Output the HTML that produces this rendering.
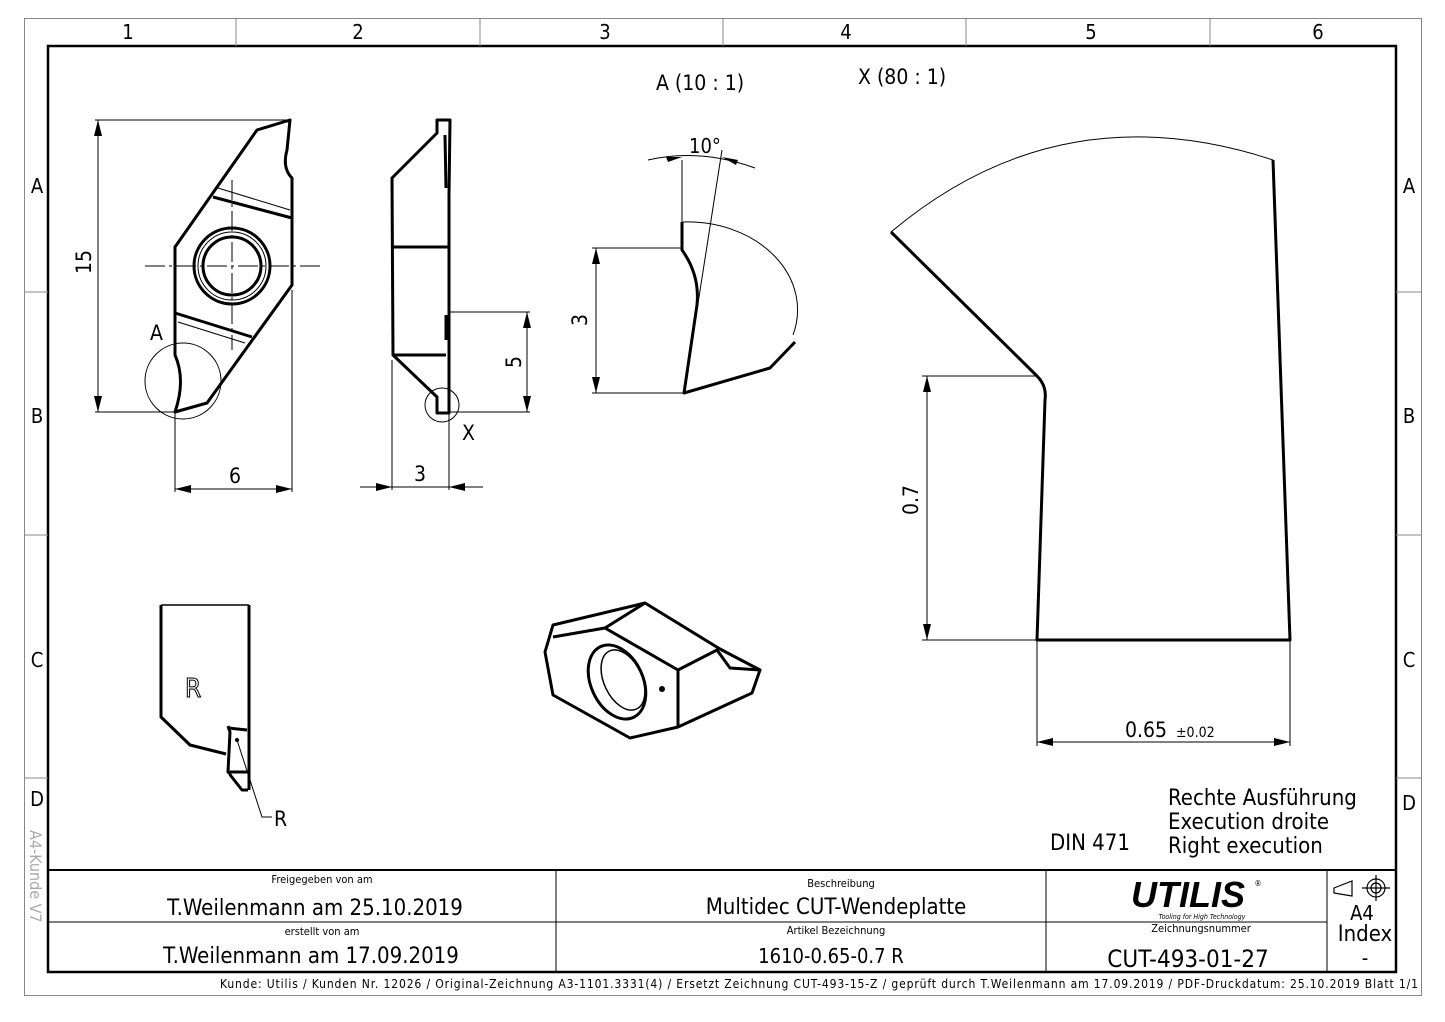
<!DOCTYPE html>
<html><head><meta charset="utf-8"><style>
html,body{margin:0;padding:0;background:#fff}
svg{display:block}
text{font-family:"Liberation Sans Narrow","DejaVu Sans Condensed","Liberation Sans",sans-serif;fill:#000}
</style></head><body>
<svg width="1445" height="1022" viewBox="0 0 1445 1022" xmlns="http://www.w3.org/2000/svg">
<rect x="0" y="0" width="1445" height="1022" fill="#fff"/>
<rect x="24.5" y="18.5" width="1397" height="977" fill="none" stroke="#888" stroke-width="1"/>
<rect x="48" y="46" width="1348" height="926" fill="none" stroke="#000" stroke-width="2.5"/>
<g stroke="#888" stroke-width="1">
<line x1="236" y1="18" x2="236" y2="46"/><line x1="480" y1="18" x2="480" y2="46"/>
<line x1="723" y1="18" x2="723" y2="46"/><line x1="966" y1="18" x2="966" y2="46"/>
<line x1="1210" y1="18" x2="1210" y2="46"/>
<line x1="24" y1="292" x2="48" y2="292"/><line x1="24" y1="535" x2="48" y2="535"/><line x1="24" y1="778" x2="48" y2="778"/>
<line x1="1396" y1="292" x2="1421" y2="292"/><line x1="1396" y1="535" x2="1421" y2="535"/><line x1="1396" y1="778" x2="1421" y2="778"/>
</g>
<g font-size="20" text-anchor="middle">
<text x="128" y="39">1</text><text x="358" y="39">2</text><text x="605" y="39">3</text>
<text x="846" y="39">4</text><text x="1091" y="39">5</text><text x="1318" y="39">6</text>
<text x="37" y="193">A</text><text x="37" y="423">B</text><text x="37" y="667">C</text><text x="37" y="806">D</text>
<text x="1409" y="193">A</text><text x="1409" y="423">B</text><text x="1409" y="667">C</text><text x="1409" y="810">D</text>
</g>
<text x="30" y="830" font-size="16" style="fill:#aaa" transform="rotate(90 30 830)">A4-Kunde V7</text>

<g stroke="#000" stroke-width="1">
<line x1="48" y1="870" x2="1396" y2="870" stroke-width="2"/>
<line x1="48" y1="922" x2="1327" y2="922"/>
<line x1="556" y1="870" x2="556" y2="972"/>
<line x1="1046" y1="870" x2="1046" y2="972"/>
<line x1="1327" y1="870" x2="1327" y2="972"/>
</g>
<g text-anchor="middle">
<text x="322" y="883" font-size="11">Freigegeben von am</text>
<text x="315" y="915" font-size="22">T.Weilenmann am 25.10.2019</text>
<text x="322" y="935" font-size="11">erstellt von am</text>
<text x="311" y="963" font-size="22">T.Weilenmann am 17.09.2019</text>
<text x="841" y="887" font-size="11">Beschreibung</text>
<text x="836" y="914" font-size="22">Multidec CUT-Wendeplatte</text>
<text x="836" y="934" font-size="11">Artikel Bezeichnung</text>
<text x="831" y="963" font-size="20">1610-0.65-0.7 R</text>
<text x="1188" y="907" font-size="36" font-weight="bold" font-style="italic" style="font-family:'Liberation Sans',sans-serif">UTILIS</text>
<text x="1258" y="886" font-size="8">®</text>
<text x="1202" y="919" font-size="7" font-style="italic">Tooling for High Technology</text>
<text x="1201" y="932" font-size="11">Zeichnungsnummer</text>
<text x="1188" y="967" font-size="24">CUT-493-01-27</text>
<text x="1362" y="920" font-size="20">A4</text>
<text x="1365" y="941" font-size="22">Index</text>
<text x="1365" y="965" font-size="20">-</text>
</g>
<g fill="none" stroke="#000" stroke-width="1.2">
<path d="M1334 888 L1352 881 L1352 896 L1334 893 Z"/>
<circle cx="1376" cy="888" r="9"/><circle cx="1376" cy="888" r="5"/>
<line x1="1362" y1="888" x2="1390" y2="888"/><line x1="1376" y1="875" x2="1376" y2="901"/>
</g>
<text x="220" y="988" font-size="12" textLength="1198" lengthAdjust="spacing">Kunde: Utilis / Kunden Nr. 12026 /  Original-Zeichnung A3-1101.3331(4)     /     Ersetzt Zeichnung CUT-493-15-Z / geprüft durch T.Weilenmann am 17.09.2019 / PDF-Druckdatum: 25.10.2019  Blatt 1/1</text>

<text x="656" y="90" font-size="21">A (10 : 1)</text>
<text x="858" y="84" font-size="21">X (80 : 1)</text>
<text x="1050" y="850" font-size="22">DIN 471</text>
<text x="1168" y="805" font-size="22">Rechte Ausführung</text>
<text x="1168" y="829" font-size="22">Execution droite</text>
<text x="1168" y="853" font-size="22">Right execution</text>

<g fill="none" stroke="#000" stroke-width="3" stroke-linejoin="round">
<path d="M290 120 L257 130 L175 247 L175 355 Q186 380 175 412 L207 403 L292 285 L292 178 Q282 168 287 150 Z"/>
<line x1="213" y1="197" x2="292" y2="218"/>
<line x1="175" y1="313" x2="252" y2="337"/>
<circle cx="232" cy="266" r="38"/>
<circle cx="232" cy="266" r="29"/>
</g>
<g fill="none" stroke="#000" stroke-width="1">
<circle cx="232" cy="266" r="34"/>
<line x1="218" y1="188" x2="290" y2="210"/>
<line x1="178" y1="322" x2="245" y2="343"/>
<line x1="145" y1="266" x2="320" y2="266" stroke-dasharray="20 4 3 4"/>
<line x1="232" y1="180" x2="232" y2="350" stroke-dasharray="20 4 3 4"/>
<circle cx="183" cy="381" r="38"/>
<line x1="95" y1="120" x2="290" y2="120"/>
<line x1="95" y1="412" x2="175" y2="412"/>
<line x1="98" y1="120" x2="98" y2="412"/>
<line x1="175" y1="412" x2="175" y2="492"/>
<line x1="292" y1="290" x2="292" y2="492"/>
<line x1="175" y1="489" x2="292" y2="489"/>
<line x1="392" y1="360" x2="392" y2="490"/>
<line x1="449" y1="413" x2="449" y2="490"/>
<line x1="360" y1="487" x2="483" y2="487"/>
<line x1="449" y1="312" x2="530" y2="312"/>
<line x1="449" y1="412" x2="530" y2="412"/>
<line x1="527" y1="312" x2="527" y2="412"/>
<circle cx="442" cy="405" r="17"/>
</g>
<g fill="#000">
<path d="M98 120 l-4 16 h8 z"/><path d="M98 412 l-4 -16 h8 z"/>
<path d="M175 489 l16 -4 v8 z"/><path d="M292 489 l-16 -4 v8 z"/>
<path d="M392 487 l-16 -4 v8 z"/><path d="M449 487 l16 -4 v8 z"/>
<path d="M527 312 l-4 16 h8 z"/><path d="M527 412 l-4 -16 h8 z"/>
</g>
<text x="150" y="340" font-size="21">A</text>
<text x="91" y="262" font-size="21" transform="rotate(-90 91 262)" text-anchor="middle">15</text>
<text x="235" y="483" font-size="21" text-anchor="middle">6</text>
<text x="420" y="481" font-size="21" text-anchor="middle">3</text>
<text x="462" y="440" font-size="21">X</text>
<text x="521" y="362" font-size="21" transform="rotate(-90 521 362)" text-anchor="middle">5</text>

<g fill="none" stroke="#000" stroke-width="3" stroke-linejoin="round">
<path d="M437 120 L450 120 L449 195 L449 413 L437 413 L437 397 L393 355 L392 178 L437 133 Z"/>
<line x1="392" y1="247" x2="449" y2="247"/>
<line x1="392" y1="355" x2="446" y2="355"/>
<line x1="445" y1="135" x2="446" y2="188"/>
<line x1="446" y1="315" x2="446" y2="340"/>
</g>

<g fill="none" stroke="#000" stroke-width="3" stroke-linejoin="round">
<path d="M682 222 L682 250 Q700 275 697 305 L684 393 L770 368 L795 342"/>
</g>
<g fill="none" stroke="#000" stroke-width="1">
<path d="M683 222 A110 88 0 0 1 793 335"/>
<line x1="682" y1="160" x2="682" y2="222"/>
<line x1="684" y1="393" x2="722" y2="150"/>
<path d="M648 160 Q700 148 755 168"/>
<line x1="592" y1="248" x2="682" y2="248"/>
<line x1="592" y1="393" x2="684" y2="393"/>
<line x1="596" y1="248" x2="596" y2="393"/>
</g>
<g fill="#000">
<path d="M596 248 l-4 16 h8 z"/><path d="M596 393 l-4 -16 h8 z"/>
<path d="M682 157 l-16 0 l2 5 z"/><path d="M722 157 l16 3 l-2 5 z"/>
</g>
<text x="689" y="153" font-size="20">10°</text>
<text x="587" y="320" font-size="21" transform="rotate(-90 587 320)" text-anchor="middle">3</text>

<g fill="none" stroke="#000" stroke-width="3" stroke-linejoin="round">
<path d="M891 232 L1037 376 Q1047 386 1045 400 L1037 640 L1290 640 L1273 160"/>
</g>
<g fill="none" stroke="#000" stroke-width="1">
<path d="M891 232 Q1060 90 1273 160"/>
<line x1="922" y1="376" x2="1037" y2="376"/>
<line x1="922" y1="640" x2="1037" y2="640"/>
<line x1="927" y1="376" x2="927" y2="640"/>
<line x1="1037" y1="640" x2="1037" y2="746"/>
<line x1="1290" y1="640" x2="1290" y2="746"/>
<line x1="1037" y1="742" x2="1290" y2="742"/>
</g>
<g fill="#000">
<path d="M927 376 l-4 16 h8 z"/><path d="M927 640 l-4 -16 h8 z"/>
<path d="M1037 742 l16 -4 v8 z"/><path d="M1290 742 l-16 -4 v8 z"/>
</g>
<text x="918" y="500" font-size="21" transform="rotate(-90 918 500)" text-anchor="middle">0.7</text>
<text x="1125" y="737" font-size="21">0.65</text>
<text x="1176" y="737" font-size="14">±0.02</text>

<g fill="none" stroke="#000" stroke-width="3" stroke-linejoin="round">
<path d="M545 652 L553 625 L645 603 L720 649 L760 670 L752 693 L678 727 L630 738 L553 695 Z"/>
<path d="M553 637 L605 628 L678 670 L678 727"/>
<line x1="605" y1="628" x2="645" y2="603"/>
<path d="M678 670 L717 650 L730 668 L760 670"/>
<ellipse cx="617" cy="682" rx="26" ry="39" transform="rotate(-25 617 682)"/>
</g>
<ellipse cx="623" cy="680" rx="19" ry="32" transform="rotate(-25 623 680)" fill="none" stroke="#000" stroke-width="1.5"/>
<circle cx="662" cy="689" r="3" fill="#000"/>

<g fill="none" stroke="#000" stroke-width="3" stroke-linejoin="round">
<path d="M161 605 L161 717 L190 745 L226 754"/>
<line x1="249" y1="605" x2="249" y2="790"/>
<path d="M228 726 L230 732 L228 772 L248 772 M228 771 L231 776 L242 790 L248 790"/>
<path d="M228 728 L247 730"/>
</g>
<line x1="161" y1="605" x2="249" y2="605" stroke="#000" stroke-width="1.5"/>
<path d="M237 740 L262 817 L272 817" fill="none" stroke="#000" stroke-width="1"/>
<circle cx="237" cy="740" r="2" fill="#000"/>
<text x="185" y="697" font-size="26" style="fill:#fff;stroke:#000;stroke-width:1">R</text>
<text x="274" y="826" font-size="21">R</text>
</svg>
</body></html>
